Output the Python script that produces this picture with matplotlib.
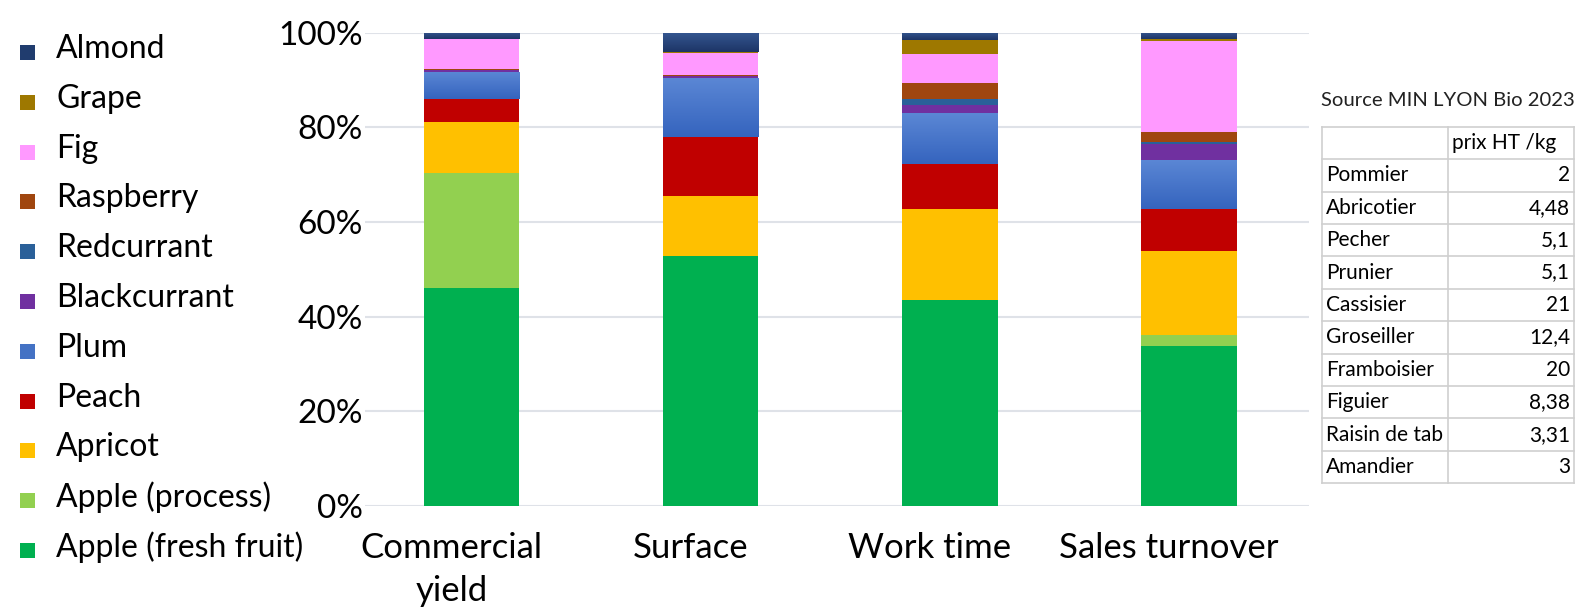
import matplotlib
matplotlib.use("Agg")
import matplotlib.pyplot as plt
from matplotlib.patches import Rectangle
from matplotlib.ticker import PercentFormatter
from matplotlib.transforms import Bbox, ScaledTranslation
from matplotlib.colors import LinearSegmentedColormap
import numpy as np

categories = ["Commercial\nyield", "Surface", "Work time", "Sales turnover"]

series_names = ["Apple (fresh fruit)", "Apple (process)", "Apricot", "Peach", "Plum",
                "Blackcurrant", "Redcurrant", "Raspberry", "Fig", "Grape", "Almond"]

apple_fresh = [46.1, 52.9, 43.5, 33.7]
apple_process = [24.3, 0.0, 0.0, 2.4]
apricot = [10.7, 12.6, 19.3, 17.8]
peach = [4.9, 12.4, 9.5, 8.8]
plum = [5.8, 12.5, 10.7, 10.4]
blackcurrant = [0.3, 0.4, 1.7, 3.4]
redcurrant = [0.05, 0.1, 1.2, 0.5]
raspberry = [0.15, 0.2, 3.4, 2.1]
fig_ = [6.4, 4.7, 6.3, 19.2]
grape = [0.0, 0.2, 2.9, 0.4]
almond = [1.3, 4.0, 1.5, 1.3]

colors = ["#00b050", "#92d050", "#ffc000", "#c00000", "#4472c4",
          "#7030a0", "#2a6099", "#a0460f", "#ff99ff", "#9e7800", "#203c6e"]
# light (top) -> dark (bottom) shading for the gradient-filled series
gradients = {"Plum": ("#5b87d5", "#3564be"), "Almond": ("#34558f", "#1d3566")}

table_title = "Source MIN LYON Bio 2023"
table_header = "prix HT /kg"
table_names = ["Pommier", "Abricotier", "Pecher", "Prunier", "Cassisier", "Groseiller",
               "Framboisier", "Figuier", "Raisin de table", "Amandier"]
table_prices = ["2", "4,48", "5,1", "5,1", "21", "12,4", "20", "8,38", "3,31", "3"]

W, H = 1596, 607
plt.rcParams['font.family'] = ['Lato', 'DejaVu Sans']
fig = plt.figure(figsize=(W / 100, H / 100), dpi=100)

def px_rect(x0, y0, x1, y1):
    return [x0 / W, 1 - y1 / H, (x1 - x0) / W, (y1 - y0) / H]

ax = fig.add_axes(px_rect(365, 32.7, 1309, 506))
data = np.array([apple_fresh, apple_process, apricot, peach, plum, blackcurrant,
                 redcurrant, raspberry, fig_, grape, almond], dtype=float)
data = data / data.sum(axis=0) * 100
x = np.arange(len(categories))
bottom = np.zeros(len(categories))
grad = np.linspace(1, 0, 64).reshape(-1, 1)
for vals, c, name in zip(data, colors, series_names):
    bars = ax.bar(x, vals / 100, 0.40, bottom=bottom / 100, color=c, label=name,
                  zorder=3, linewidth=0)
    if name in gradients:
        cmap = LinearSegmentedColormap.from_list(name, [gradients[name][1], gradients[name][0]])
        for b in bars:
            if b.get_height() <= 0:
                continue
            bx, by = b.get_x(), b.get_y()
            im = ax.imshow(grad, cmap=cmap, aspect='auto', zorder=3.5,
                           extent=(bx, bx + b.get_width(), by, by + b.get_height()),
                           vmin=0, vmax=1, interpolation='bilinear')
            im.set_clip_path(b)
    bottom += vals

ax.set_xlim(-0.446, 3.503)
ax.set_ylim(0, 1)
ax.set_aspect('auto')
ax.set_yticks(np.linspace(0, 1, 6))
ax.yaxis.set_major_formatter(PercentFormatter(1.0, decimals=0))
ax.grid(axis='y', color='#dfe2e8', linewidth=1.5, zorder=0)
for s in ax.spines.values():
    s.set_visible(False)
ax.tick_params(axis='both', length=0, colors='black')
ax.tick_params(axis='y', pad=1.5, labelsize=24)
ax.tick_params(axis='x', pad=19, labelsize=25)
ax.set_xticks(x)
ax.set_xticklabels(categories, linespacing=1.4)
shift = ScaledTranslation(-20 / 100, 0, fig.dpi_scale_trans)
for lab in ax.get_xticklabels():
    lab.set_transform(lab.get_transform() + shift)

# Legend (drawn manually, top = Almond)
for i, (name, c) in enumerate(zip(series_names[::-1], colors[::-1])):
    yc = 49 + i * 49.8
    fig.add_artist(Rectangle((19.5 / W, 1 - (yc + 11) / H), 15 / W, 15 / H,
                             transform=fig.transFigure, color=c, linewidth=0))
    fig.text(56 / W, 1 - yc / H, name, fontsize=23, va='center', ha='left')

# Table
tx0, tx1, txm = 1321.7, 1574, 1448.3
ty0, ty1 = 126.7, 483.3
nrows = len(table_names) + 1
rh = (ty1 - ty0) / nrows
fig.text((tx0 + tx1) / 2 / W, 1 - 101 / H, table_title, fontsize=14.6,
         ha='center', va='center', color='#222222')
gc = '#cfcfcf'
for r in range(nrows + 1):
    yy = 1 - (ty0 + r * rh) / H
    fig.add_artist(plt.Line2D([tx0 / W, tx1 / W], [yy, yy], color=gc, lw=1.2,
                              transform=fig.transFigure))
for xx in (tx0, txm, tx1):
    fig.add_artist(plt.Line2D([xx / W, xx / W], [1 - ty0 / H, 1 - ty1 / H], color=gc,
                              lw=1.2, transform=fig.transFigure))
fig.text((txm + 4) / W, 1 - (ty0 + rh / 2) / H, table_header, fontsize=15,
         ha='left', va='center')
for r, (nm, pr) in enumerate(zip(table_names, table_prices)):
    yc = ty0 + (r + 1.5) * rh
    t = fig.text((tx0 + 4) / W, 1 - yc / H, nm, fontsize=15, ha='left', va='center')
    t.set_clip_box(Bbox([[tx0, 0], [txm - 4, H]]))
    t.set_clip_on(True)
    fig.text((tx1 - 4) / W, 1 - yc / H, pr, fontsize=15, ha='right', va='center')

fig.savefig("out.png", dpi=100)
